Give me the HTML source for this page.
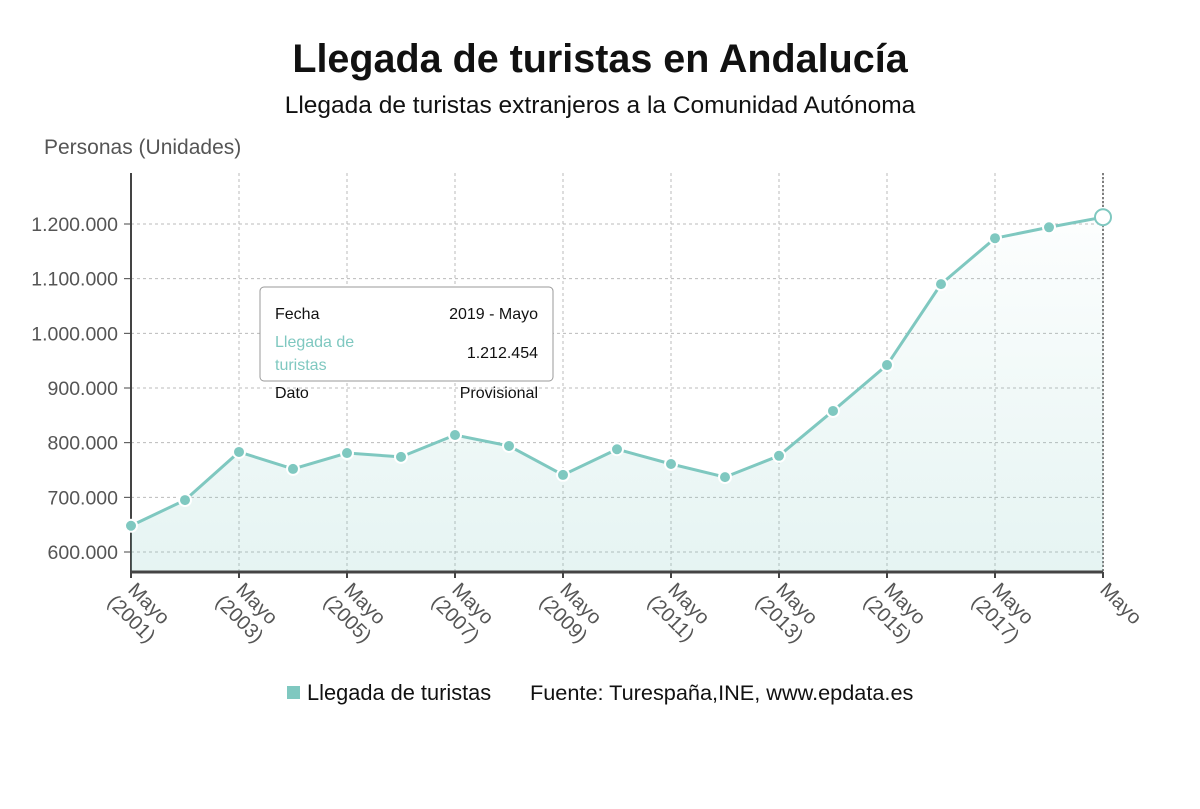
<!DOCTYPE html>
<html><head><meta charset="utf-8"><style>
body{margin:0;background:#fff;font-family:"Liberation Sans","DejaVu Sans",sans-serif;}
#wrap{position:relative;width:1200px;height:809px;overflow:hidden;background:#fff}
</style></head><body>
<div id="wrap">
<svg id="chart" width="1200" height="809">
<defs>
<linearGradient id="ag" x1="0" y1="0" x2="0" y2="1"><stop offset="0" stop-color="#7fc8c0" stop-opacity="0.02"/><stop offset="1" stop-color="#7fc8c0" stop-opacity="0.2"/></linearGradient>
<clipPath id="lc"><rect x="0" y="572" width="1200" height="75"/></clipPath>
</defs>
<text x="600" y="72" text-anchor="middle" font-size="39.5" font-weight="bold" fill="#111">Llegada de turistas en Andalucía</text>
<text x="600" y="113" text-anchor="middle" font-size="24.5" fill="#111">Llegada de turistas extranjeros a la Comunidad Autónoma</text>
<text x="44" y="154" font-size="21" fill="#555">Personas (Unidades)</text>
<g id="grid"></g><g id="area"></g><g id="yt"></g><g id="xt" clip-path="url(#lc)"></g><g id="marks"></g>
<g>
<rect x="260" y="287" width="293" height="94" rx="4" fill="#fff" stroke="#999" stroke-width="1"/>
<text x="275" y="319" font-size="16" fill="#111">Fecha</text>
<text x="538" y="319" font-size="16" fill="#111" text-anchor="end">2019 - Mayo</text>
<text x="275" y="347" font-size="16" fill="#7fc8c0">Llegada de</text>
<text x="275" y="370" font-size="16" fill="#7fc8c0">turistas</text>
<text x="538" y="358" font-size="16" fill="#111" text-anchor="end">1.212.454</text>
<text x="275" y="398" font-size="16" fill="#111">Dato</text>
<text x="538" y="398" font-size="16" fill="#111" text-anchor="end">Provisional</text>
</g>
<rect x="287" y="686" width="13" height="13" fill="#7fc8c0"/>
<text x="307" y="700" font-size="21.8" fill="#111">Llegada de turistas</text>
<text x="530" y="700" font-size="21.7" fill="#111">Fuente: Turespaña,INE, www.epdata.es</text>
</svg>
</div>
<script>
const years=[2001,2002,2003,2004,2005,2006,2007,2008,2009,2010,2011,2012,2013,2014,2015,2016,2017,2018,2019];
const values=[648000,695000,783000,752000,781000,774000,814000,794000,741000,788000,761000,737000,776000,858000,942000,1090000,1174000,1194000,1212454];
const yTicks=[600000,700000,800000,900000,1000000,1100000,1200000];
const yTickLabels=["600.000","700.000","800.000","900.000","1.000.000","1.100.000","1.200.000"];
const NS="http://www.w3.org/2000/svg";
const L=131,R=1103,T=173,B=572;
const xs=i=>L+(R-L)*i/(years.length-1);
const ys=v=>552-(v-600000)*(328/600000);
function mk(t,a,p){const e=document.createElementNS(NS,t);for(const k in a)e.setAttribute(k,a[k]);p.appendChild(e);return e;}
const grid=document.getElementById('grid'),yt=document.getElementById('yt'),xt=document.getElementById('xt'),marks=document.getElementById('marks'),area=document.getElementById('area');
yTicks.forEach((v,i)=>{
 const l=mk('line',{x1:L,x2:R,y1:ys(v),y2:ys(v),stroke:'#bbb','stroke-dasharray':'3,3'},grid);
 
 
 const t=mk('text',{x:118,y:ys(v)+7,'text-anchor':'end','font-size':19.5,fill:'#555'},yt);
 t.textContent=yTickLabels[i];
 
 
 mk('line',{x1:124,x2:131,y1:ys(v),y2:ys(v),stroke:'#444'},yt);
});
years.forEach((y,i)=>{
 if(i%2) return;
 const x=xs(i);
 const l=mk('line',{x1:x,x2:x,y1:T,y2:B,stroke:'#bbb','stroke-dasharray':'3,3'},grid);
 
 
 mk('line',{x1:x,x2:x,y1:B,y2:B+6,stroke:'#444','stroke-width':2},xt);
 const t=mk('text',{transform:`translate(${x-4},${B+19}) rotate(45)`,'font-size':20,fill:'#555'},xt);
 
 
 const a=mk('tspan',{x:0,dy:0},t);a.textContent='Mayo';
 if(i<years.length-1){const b=mk('tspan',{x:-6,dy:23},t);b.textContent='('+y+')';}
});
mk('line',{x1:L,x2:L,y1:T,y2:B,stroke:'#444','stroke-width':2},grid);
mk('line',{x1:R,x2:R,y1:T,y2:B,stroke:'#555','stroke-width':1.5,'stroke-dasharray':'2,2'},grid);
mk('line',{x1:L,x2:R,y1:B,y2:B,stroke:'#444','stroke-width':3},xt.parentNode);
let d=values.map((v,i)=>(i?'L':'M')+xs(i)+','+ys(v)).join(' ');
const ar=mk('path',{d:d+` L${R},${B} L${L},${B} Z`,fill:'url(#ag)'},area);


const ln=mk('path',{d:d,fill:'none',stroke:'#7fc8c0','stroke-width':3},marks);


values.forEach((v,i)=>{
 const last=i===values.length-1;
 const c=mk('circle',{cx:xs(i),cy:ys(v),r:last?8:6,fill:last?'#fff':'#7fc8c0',stroke:last?'#7fc8c0':'#fff','stroke-width':2},marks);
 
 
});
</script>
</body></html>
